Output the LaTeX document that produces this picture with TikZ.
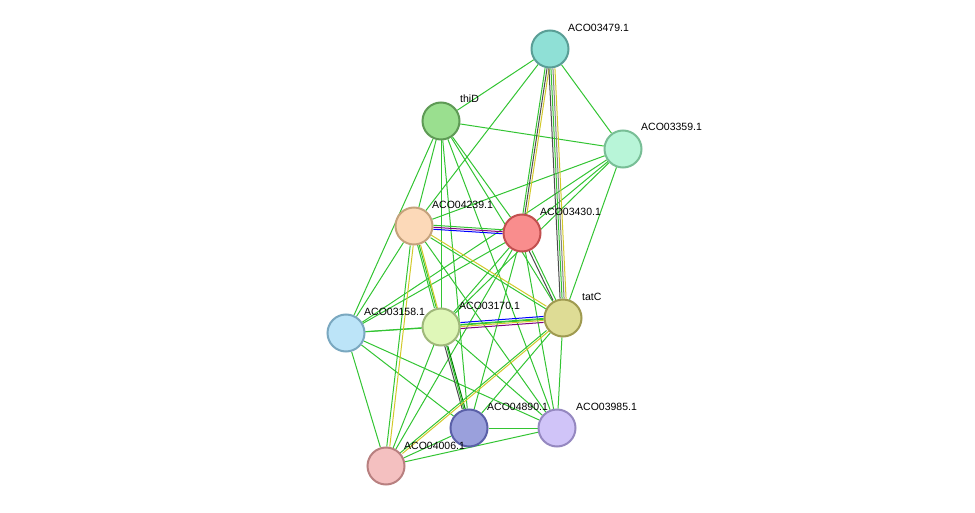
\documentclass[tikz,border=0pt]{standalone}
\usepackage{fontspec}
\setmainfont{Liberation Sans}
\begin{document}
\begin{tikzpicture}[x=1pt,y=-1pt,
 prot/.style={circle,minimum size=37pt,inner sep=0pt,line width=2pt},
 lab/.style={anchor=west,font=\fontsize{10.5}{12}\selectfont,inner sep=0pt},
 e/.style={draw=green!70!black!80,line width=1pt},
 every path/.style={}]
\useasboundingbox (0,0) rectangle (975,513);
\definecolor{eg}{HTML}{33C433}
\tikzset{e/.style={draw=eg,line width=1pt}}
\node[prot,fill={rgb,255:red,143;green,224;blue,214},draw={rgb,255:red,90;green,158;blue,150}] (a) at (550,49) {};
\node[prot,fill={rgb,255:red,154;green,223;blue,143},draw={rgb,255:red,94;green,154;blue,85}] (t) at (441,121) {};
\node[prot,fill={rgb,255:red,184;green,245;blue,216},draw={rgb,255:red,120;green,190;blue,150}] (b) at (623,149) {};
\node[prot,fill={rgb,255:red,252;green,217;blue,184},draw={rgb,255:red,197;green,162;blue,124}] (c) at (414,226) {};
\node[prot,fill={rgb,255:red,249;green,141;blue,141},draw={rgb,255:red,194;green,79;blue,79}] (d) at (522,233) {};
\node[prot,fill={rgb,255:red,222;green,220;blue,149},draw={rgb,255:red,159;green,154;blue,80}] (tc) at (563,318) {};
\node[prot,fill={rgb,255:red,223;green,247;blue,184},draw={rgb,255:red,159;green,184;blue,122}] (f) at (441,327) {};
\node[prot,fill={rgb,255:red,188;green,228;blue,248},draw={rgb,255:red,122;green,168;blue,192}] (g) at (346,333) {};
\node[prot,fill={rgb,255:red,154;green,160;blue,220},draw={rgb,255:red,90;green,96;blue,168}] (h) at (469,428) {};
\node[prot,fill={rgb,255:red,208;green,196;blue,248},draw={rgb,255:red,149;green,136;blue,192}] (i) at (557,428) {};
\node[prot,fill={rgb,255:red,244;green,192;blue,192},draw={rgb,255:red,184;green,128;blue,128}] (j) at (386,466) {};
\begin{scope}[on background layer/.style={}]
\end{scope}
\begin{pgfinterruptboundingbox}\end{pgfinterruptboundingbox}
% edges drawn behind via layers
\pgfdeclarelayer{bg}\pgfsetlayers{bg,main}
\begin{pgfonlayer}{bg}
\foreach \u/\v in {a/b,a/c,a/t,t/b,t/c,t/d,t/tc,t/f,t/g,t/h,t/i,b/c,b/d,b/tc,b/f,b/g,
 c/g,c/i,c/h,d/f,d/g,d/h,d/i,d/j,tc/g,tc/h,tc/i,f/g,f/i,f/j,g/h,g/i,g/j,h/i,h/j,i/j}
 \draw[e] (\u) -- (\v);
% multi edges
\draw[e,transform canvas={xshift=-2pt}] (a) -- (d);
\draw[draw=black!70,line width=1pt] (a) -- (d);
\draw[draw=yellow!80!black,line width=1pt,transform canvas={xshift=2pt}] (a) -- (d);
\draw[draw=black!70,line width=1pt,transform canvas={xshift=-2pt}] (a) -- (tc);
\draw[e] (a) -- (tc);
\draw[draw=gray,line width=1pt,transform canvas={xshift=2pt}] (a) -- (tc);
\draw[draw=yellow!80!black,line width=1pt,transform canvas={xshift=4pt}] (a) -- (tc);
\draw[draw=blue,line width=1pt,transform canvas={yshift=-2pt}] (c) -- (d);
\draw[draw=violet,line width=1pt] (c) -- (d);
\draw[e,transform canvas={yshift=2pt}] (c) -- (d);
\draw[e,transform canvas={yshift=-1.5pt}] (c) -- (tc);
\draw[draw=yellow!80!black,line width=1pt,transform canvas={yshift=1.5pt}] (c) -- (tc);
\draw[e,transform canvas={xshift=-1.5pt}] (c) -- (f);
\draw[draw=yellow!80!black,line width=1pt,transform canvas={xshift=1.5pt}] (c) -- (f);
\draw[e,transform canvas={xshift=-1.5pt}] (c) -- (j);
\draw[draw=yellow!80!black,line width=1pt,transform canvas={xshift=1.5pt}] (c) -- (j);
\draw[draw=black!70,line width=1pt,transform canvas={xshift=-1.5pt}] (d) -- (tc);
\draw[e,transform canvas={xshift=1.5pt}] (d) -- (tc);
\draw[draw=violet,line width=1pt,transform canvas={yshift=-3pt}] (f) -- (tc);
\draw[draw=yellow!80!black,line width=1pt,transform canvas={yshift=-1pt}] (f) -- (tc);
\draw[e,transform canvas={yshift=1pt}] (f) -- (tc);
\draw[draw=blue,line width=1pt,transform canvas={yshift=3pt}] (f) -- (tc);
\draw[draw=black!70,line width=1pt,transform canvas={xshift=-1.5pt}] (f) -- (h);
\draw[draw=green!50!black,line width=1pt,transform canvas={xshift=1.5pt}] (f) -- (h);
\draw[e,transform canvas={xshift=-1.5pt}] (tc) -- (j);
\draw[draw=yellow!80!black,line width=1pt,transform canvas={xshift=1.5pt}] (tc) -- (j);
\end{pgfonlayer}
\node[lab] at (568,28) {ACO03479.1};
\node[lab] at (460,99) {thiD};
\node[lab] at (641,127) {ACO03359.1};
\node[lab] at (432,205) {ACO04239.1};
\node[lab] at (540,212) {ACO03430.1};
\node[lab] at (582,297) {tatC};
\node[lab] at (459,306) {ACO03170.1};
\node[lab] at (364,312) {ACO03158.1};
\node[lab] at (487,407) {ACO04890.1};
\node[lab] at (576,407) {ACO03985.1};
\node[lab] at (404,446) {ACO04006.1};
\end{tikzpicture}
\end{document}
